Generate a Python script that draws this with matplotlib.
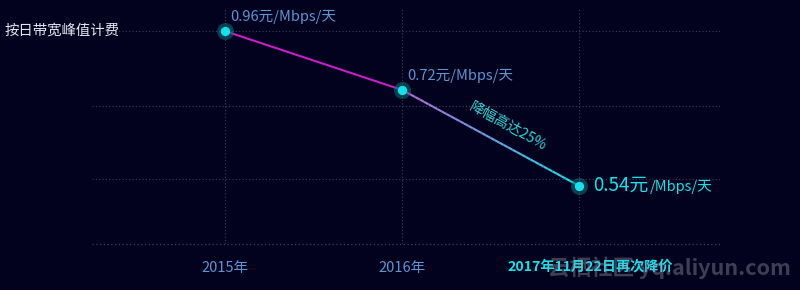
import matplotlib
matplotlib.use("Agg")
import matplotlib.pyplot as plt
import numpy as np
from matplotlib.collections import LineCollection

plt.rcParams["font.family"] = ["Noto Sans CJK SC", "DejaVu Sans"]

# data
years = ["2015年", "2016年", "2017年11月22日再次降价"]
prices = [0.96, 0.72, 0.54]
price_labels = ["0.96元/Mbps/天", "0.72元/Mbps/天"]
drop_text = "降幅高达25%"
unit_title = "按日带宽峰值计费"
grid_levels = [0.96, 0.679, 0.549]

BG = "#03021e"
GRID = "#3c3d5e"
CYAN = "#12e3ea"
BLUE_TXT = "#5f95d2"

# the source chart's vertical spacing is not linear in price; a power scale fits it
POW = 1.7


def fwd(v):
    return -np.power(np.asarray(v, dtype=float), -POW)


def inv(u):
    return np.power(-np.asarray(u, dtype=float), -1.0 / POW)


fig = plt.figure(figsize=(8, 2.9), dpi=100, facecolor=BG)
ax = fig.add_axes([0.115, 0.159, 0.785, 0.813])
ax.set_facecolor(BG)
ax.set_yscale("function", functions=(fwd, inv))

x = np.arange(len(years))
ax.set_xlim(-0.751, 2.797)
ax.set_ylim(0.477, 1.134)

# grid
for g in grid_levels:
    ax.axhline(g, color=GRID, lw=0.8, ls=(0, (1, 2)), zorder=0)
ax.axhline(0.477, color=GRID, lw=0.9, ls=(0, (1, 2)), zorder=0, clip_on=False)
for xi in x:
    ax.axvline(xi, color=GRID, lw=0.8, ls=(0, (1, 2)), zorder=0)

# segment 1: magenta
ax.plot(x[:2], prices[:2], color="#c81ec8", lw=1.5, zorder=2)

# segment 2: purple -> cyan gradient (split in scale space so it stays straight)
n = 40
t = np.linspace(0, 1, n + 1)
xs = x[1] + (x[2] - x[1]) * t
us = fwd(prices[1]) + (fwd(prices[2]) - fwd(prices[1])) * t
ys = inv(us)
pts = np.column_stack([xs, ys]).reshape(-1, 1, 2)
segs = np.concatenate([pts[:-1], pts[1:]], axis=1)
c0 = np.array([0.72, 0.40, 0.85])
c1 = np.array([0.07, 0.89, 0.92])
cols = [tuple(c0 + (c1 - c0) * k) for k in t[:-1]]
ax.add_collection(LineCollection(segs, colors=cols, linewidths=1.5, zorder=2))

# points with glow
ax.scatter(x, prices, s=150, color="#0f6f7a", alpha=0.55, zorder=3, lw=0)
ax.scatter(x, prices, s=45, color=CYAN, zorder=4, lw=0)

# value labels
for xi, yi, lab in zip(x[:2], prices[:2], price_labels):
    ax.annotate(lab, (xi, yi), xytext=(4, 5), textcoords="offset points",
                color=BLUE_TXT, fontsize=10.5, ha="left", va="bottom")

big = ax.annotate("0.54元", (x[2], prices[2]), xytext=(10, 0), textcoords="offset points",
                  color=CYAN, fontsize=13.5, ha="left", va="center")
ax.annotate("/Mbps/天", xy=(1.0, 0.42), xycoords=big, xytext=(1, 0),
            textcoords="offset points", color=CYAN, fontsize=10.5,
            ha="left", va="center")

mid_x = (x[1] + x[2]) / 2 + 0.07
mid_y = float(inv((fwd(prices[1]) + fwd(prices[2])) / 2))
ax.annotate(drop_text, (mid_x, mid_y), xytext=(4, 8), textcoords="offset points",
            color="#2ed8d8", fontsize=10.3, rotation=-29, ha="center", va="center",
            rotation_mode="anchor")

# x labels: first two as ticks, the last one sits a bit right of its tick
ax.set_xticks(x)
ax.set_xticklabels(years[:2] + [""], fontsize=10.5, color=BLUE_TXT)
ax.annotate(years[2], xy=(x[2], 0), xycoords=ax.get_xaxis_transform(),
            xytext=(11, -23), textcoords="offset pixels", color=CYAN,
            fontsize=10.2, fontweight="bold", ha="center", va="center")
ax.tick_params(axis="x", length=0, pad=12)
ax.set_yticks([])
for s in ax.spines.values():
    s.set_visible(False)

fig.text(5 / 800, 1 - 31 / 290, unit_title, color="#e6e6ee", fontsize=10.4,
         ha="left", va="center")

# watermark
fig.text(0.988, 1 - 268 / 290, "云栖社区 yq.aliyun.com", color="#9a9aaa", alpha=0.4,
         fontsize=15.5, ha="right", va="center", fontweight="bold")

fig.savefig("out.png", dpi=100, facecolor=BG)
